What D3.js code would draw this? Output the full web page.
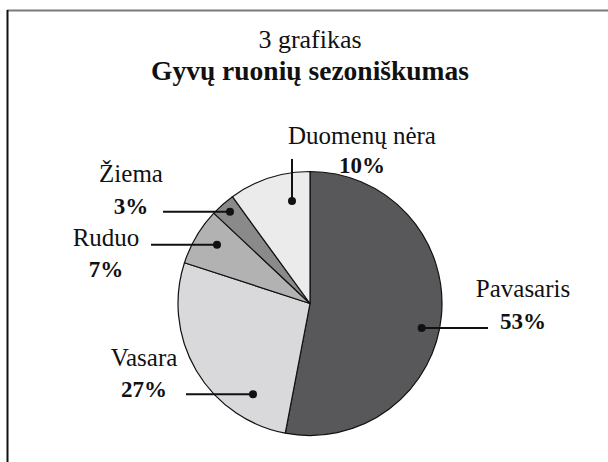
<!DOCTYPE html>
<html>
<head>
<meta charset="utf-8">
<script src="https://cdn.jsdelivr.net/npm/d3@7/dist/d3.min.js"></script>
<style>
  html, body { margin: 0; padding: 0; background: #fff; }
  svg { display: block; }
  text { font-family: "Liberation Serif", "Times New Roman", serif; fill: #111; }
</style>
</head>
<body>
<svg id="chart" width="608" height="462"></svg>
<script>
// ---- data ----
const categories = ["Pavasaris", "Vasara", "Ruduo", "Žiema", "Duomenų nėra"];
const values = [53, 27, 7, 3, 10];
const valueLabels = ["53%", "27%", "7%", "3%", "10%"];
const titleLine1 = "3 grafikas";
const titleLine2 = "Gyvų ruonių sezoniškumas";

// ---- styles / layout ----
const colors = ["#58585a", "#d9d9db", "#b2b2b3", "#8a8a8b", "#ebebeb"];
const W = 608, H = 462;
const cx = 310, cy = 303.5, R = 132;

const labelLayout = [
  { dot: [421.7, 328], lineEnd: [488, 328], text: [523, 297], dy: 32 },
  { dot: [253, 394.3], lineEnd: [186, 394.3], text: [144, 366], dy: 31 },
  { dot: [217, 244.7], lineEnd: [151, 244.7], text: [106, 246], dy: 31 },
  { dot: [230, 211.7], lineEnd: [163, 211.7], text: [131, 182], dy: 32 },
  { dot: [292, 201], lineEnd: [292, 159], text: [362, 144], dy: 29 }
];

const svg = d3.select("#chart");

// frame
svg.append("line").attr("x1", 7).attr("x2", W).attr("y1", 10.5).attr("y2", 10.5)
  .attr("stroke", "#7a7a7a").attr("stroke-width", 2);
svg.append("line").attr("x1", 7.5).attr("x2", 7.5).attr("y1", 10).attr("y2", H)
  .attr("stroke", "#111").attr("stroke-width", 2);

// titles
svg.append("text").attr("x", 310).attr("y", 48).attr("text-anchor", "middle")
  .style("font-size", "26px").text(titleLine1);
svg.append("text").attr("x", 310).attr("y", 80).attr("text-anchor", "middle")
  .style("font-size", "27.5px").style("font-weight", "bold").text(titleLine2);

// pie
const pie = d3.pie().sort(null).value(d => d)(values);
const arc = d3.arc().innerRadius(0).outerRadius(R);
const g = svg.append("g").attr("transform", `translate(${cx},${cy})`);
g.selectAll("path").data(pie).join("path")
  .attr("d", arc)
  .attr("fill", (d, i) => colors[i])
  .attr("stroke", "#111")
  .attr("stroke-width", 1.2)
  .attr("stroke-linejoin", "round");

// leaders and labels
categories.forEach((c, i) => {
  const L = labelLayout[i];
  svg.append("line")
    .attr("x1", L.dot[0]).attr("y1", L.dot[1])
    .attr("x2", L.lineEnd[0]).attr("y2", L.lineEnd[1])
    .attr("stroke", "#111").attr("stroke-width", 2);
  svg.append("circle").attr("cx", L.dot[0]).attr("cy", L.dot[1]).attr("r", 4).attr("fill", "#111");
  svg.append("text").attr("x", L.text[0]).attr("y", L.text[1]).attr("text-anchor", "middle")
    .style("font-size", "25px").text(c);
  svg.append("text").attr("x", L.text[0]).attr("y", L.text[1] + L.dy).attr("text-anchor", "middle")
    .style("font-size", "23px").style("font-weight", "bold").text(valueLabels[i]);
});
</script>
</body>
</html>
